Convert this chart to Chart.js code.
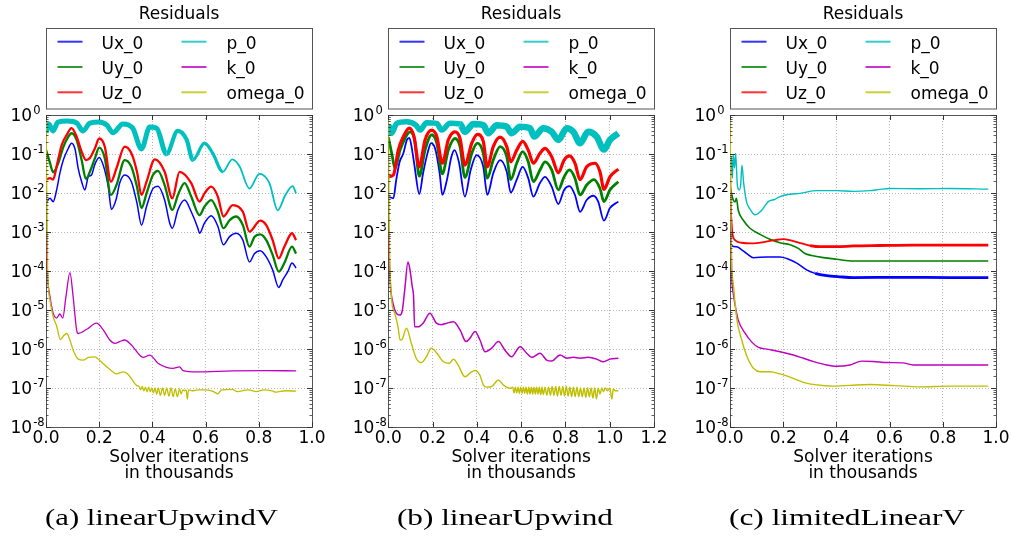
<!DOCTYPE html>
<html><head><meta charset="utf-8">
<script src="https://cdn.jsdelivr.net/npm/chart.js@4/dist/chart.umd.min.js"></script>
<style>
html,body{margin:0;padding:0;background:#fff;}
#wrap{position:relative;width:1011px;height:539px;overflow:hidden;}
canvas{position:absolute;top:0;}
</style></head><body>
<div id="wrap">
<canvas id="ca" width="337" height="539" style="left:0px"></canvas>
<canvas id="cb" width="337" height="539" style="left:337px"></canvas>
<canvas id="cc" width="337" height="539" style="left:674px"></canvas>
</div>
<script>
// ---------- tick labels / categories ----------
const seriesLabels = ['Ux_0','Uy_0','Uz_0','p_0','k_0','omega_0'];
const yTicks = [1,1e-1,1e-2,1e-3,1e-4,1e-5,1e-6,1e-7,1e-8];
const xTicksA = [0.0,0.2,0.4,0.6,0.8,1.0];
const xTicksB = [0.0,0.2,0.4,0.6,0.8,1.0,1.2];
const xTicksC = [0.0,0.2,0.4,0.6,0.8,1.0];

// ---------- panel (a) linearUpwindV ----------
const aUxX = [0.0,0.015,0.027,0.04,0.052,0.065,0.084,0.096,0.109,0.121,0.134,0.146,0.159,0.171,0.184,0.2,0.217,0.234,0.246,0.264,0.277,0.296,0.321,0.342,0.359,0.378,0.402,0.421,0.446,0.465,0.475,0.496,0.521,0.546,0.571,0.577,0.596,0.621,0.646,0.667,0.69,0.715,0.74,0.765,0.784,0.805,0.828,0.852,0.875,0.89,0.909,0.925,0.94];
const aUxY = [5.5e-3,7.3e-3,6.0e-3,1.2e-2,3.2e-2,7.0e-2,0.14,0.19,0.135,4.3e-2,1.95e-2,1.2e-2,2.6e-2,2.9e-2,5.5e-2,8.1e-2,4.7e-2,1.45e-2,3.8e-3,7.0e-3,1.8e-2,2.9e-2,1.95e-2,5.5e-3,1.5e-3,4.5e-3,1.3e-2,1.5e-2,6.6e-3,1.7e-3,1.25e-3,3.7e-3,6.6e-3,3.3e-3,1.25e-3,9.3e-4,1.7e-3,2.6e-3,1.4e-3,4.7e-4,7.6e-4,9.3e-4,6.2e-4,1.7e-4,2.8e-4,3.3e-4,2.3e-4,1.07e-4,3.8e-5,5.9e-5,9.6e-5,1.6e-4,1.2e-4];
const aUyX = [0.0,0.015,0.027,0.046,0.065,0.084,0.096,0.115,0.134,0.15,0.165,0.184,0.2,0.221,0.244,0.265,0.296,0.321,0.342,0.359,0.378,0.402,0.421,0.446,0.475,0.496,0.521,0.546,0.577,0.596,0.621,0.646,0.667,0.69,0.715,0.74,0.765,0.784,0.805,0.828,0.852,0.875,0.896,0.925,0.94];
const aUyY = [0.13,5.9e-2,3.4e-2,5.8e-2,0.15,0.28,0.34,0.23,7.0e-2,2.3e-2,3.5e-2,7.8e-2,0.145,7.8e-2,8.9e-3,1.6e-2,7.0e-2,4.7e-2,1.45e-2,4.1e-3,9.8e-3,2.9e-2,3.7e-2,1.6e-2,3.7e-3,8.9e-3,1.8e-2,8.1e-3,2.7e-3,4.5e-3,6.6e-3,3.3e-3,1.25e-3,2.0e-3,2.5e-3,1.5e-3,4.2e-4,7.6e-4,8.7e-4,6.2e-4,2.6e-4,9.6e-5,1.6e-4,4.2e-4,2.8e-4];
const aUzX = [0.0,0.015,0.027,0.041,0.059,0.078,0.096,0.114,0.134,0.15,0.165,0.184,0.2,0.221,0.244,0.265,0.296,0.321,0.342,0.359,0.378,0.409,0.446,0.475,0.502,0.546,0.577,0.596,0.621,0.646,0.667,0.702,0.74,0.765,0.805,0.828,0.852,0.875,0.896,0.925,0.94];
const aUzY = [2.2e-2,2.4e-2,2.2e-2,5.2e-2,0.17,0.31,0.46,0.29,0.115,7.0e-2,7.9e-2,0.14,0.25,0.155,1.95e-2,4.3e-2,0.155,0.104,3.5e-2,8.9e-3,1.95e-2,7.3e-2,3.5e-2,7.3e-3,3.5e-2,1.8e-2,6.0e-3,9.8e-3,1.45e-2,8.1e-3,2.5e-3,4.9e-3,3.3e-3,1.02e-3,1.95e-3,1.5e-3,6.2e-4,2.1e-4,4.2e-4,9.3e-4,6.2e-4];
const aPX = [0.0,0.011,0.026,0.045,0.079,0.116,0.139,0.165,0.2,0.229,0.252,0.289,0.326,0.359,0.39,0.416,0.453,0.495,0.529,0.552,0.596,0.626,0.665,0.7,0.727,0.765,0.802,0.84,0.871,0.9,0.927,0.94];
const aPY = [0.35,0.59,0.39,0.66,0.7,0.62,0.39,0.62,0.66,0.55,0.35,0.59,0.46,0.135,0.49,0.46,0.1,0.39,0.23,7.0e-2,0.19,0.107,3.5e-2,7.3e-2,4.9e-2,1.3e-2,3.1e-2,1.8e-2,3.6e-3,8.9e-3,1.5e-2,9.8e-3];
const aKX = [0.0,0.005,0.015,0.027,0.04,0.052,0.063,0.075,0.09,0.102,0.115,0.121,0.153,0.19,0.215,0.24,0.259,0.277,0.296,0.321,0.352,0.365,0.39,0.421,0.453,0.477,0.502,0.515,0.565,0.7,0.825,0.94];
const aKY = [1e-3,8.9e-5,2.2e-5,8.3e-6,6.2e-6,7.9e-6,6.2e-6,2.2e-5,9.1e-5,2.2e-5,3.1e-6,2.5e-6,3.2e-6,4.6e-6,3.1e-6,1.7e-6,1.4e-6,1.55e-6,1.7e-6,1.26e-6,7.0e-7,6.1e-7,7.0e-7,4.3e-7,3.4e-7,3.2e-7,3.5e-7,2.8e-7,2.6e-7,2.75e-7,2.8e-7,2.75e-7];
const aWX = [0.0,0.006,0.015,0.027,0.04,0.054,0.064,0.078,0.09,0.102,
  0.121,0.14,0.159,0.184,0.2,0.228,0.251,0.265,0.29,0.307,
  0.334,0.341,0.35,0.356,0.362,0.368,0.374,0.38,0.386,0.392,
  0.398,0.404,0.41,0.416,0.422,0.43,0.438,0.446,0.454,0.462,
  0.47,0.478,0.486,0.494,0.502,0.508,0.514,0.52,0.527,0.531,
  0.536,0.55,0.57,0.6,0.63,0.645,0.66,0.7,0.72,0.76,
  0.79,0.82,0.85,0.865,0.9,0.94];
const aWY = [1.0,1.3e-4,1.8e-5,6.7e-6,3.9e-6,1.75e-6,2.1e-6,2.5e-6,1.7e-6,9.4e-7,
  5.5e-7,5.2e-7,6.1e-7,6.3e-7,5.2e-7,3.5e-7,2.6e-7,2.3e-7,2.6e-7,2.3e-7,
  1.3e-7,1.15e-7,1.1e-7,9e-8,1.1e-7,8.5e-8,1.05e-7,8e-8,1.05e-7,8e-8,
  1e-7,7.5e-8,1e-7,7e-8,1e-7,6.5e-8,1e-7,6.5e-8,1e-7,6.2e-8,
  1e-7,6e-8,9.5e-8,6e-8,9.5e-8,7e-8,9e-8,8.5e-8,9e-8,5.2e-8,
  9e-8,8.5e-8,9e-8,8.9e-8,8.1e-8,7.1e-8,8.9e-8,9.2e-8,8.1e-8,9e-8,
  8.1e-8,9e-8,8.4e-8,7.8e-8,8.5e-8,8.3e-8];

// ---------- panel (b) linearUpwind ----------
const bUxX = [0.0,0.023,0.036,0.051,0.068,0.084,0.095,0.105,0.119,0.14,0.157,0.179,0.193,0.211,0.232,0.244,0.265,0.285,0.299,0.319,0.346,0.372,0.399,0.429,0.447,0.474,0.505,0.535,0.553,0.58,0.607,0.632,0.655,0.685,0.708,0.738,0.768,0.794,0.818,0.843,0.866,0.896,0.926,0.948,0.974,1.001,1.039];
const bUxY = [8.1e-3,7.3e-3,2.2e-2,6.2e-2,0.104,0.23,0.26,0.155,4.7e-2,9.4e-3,3.2e-2,0.115,0.19,0.14,3.2e-2,8.9e-3,2.2e-2,8.5e-2,0.126,6.2e-2,8.1e-3,3.9e-2,9.4e-2,4.7e-2,8.9e-3,3.2e-2,7.0e-2,3.5e-2,1.02e-2,2.2e-2,4.7e-2,2.4e-2,8.1e-3,1.8e-2,2.6e-2,1.45e-2,5.2e-3,1.2e-2,1.5e-2,8.9e-3,3.3e-3,6.6e-3,8.5e-3,6.0e-3,1.95e-3,4.1e-3,6.0e-3];
const bUyX = [0.0,0.017,0.03,0.053,0.075,0.098,0.119,0.14,0.166,0.196,0.219,0.244,0.271,0.301,0.324,0.346,0.377,0.402,0.429,0.447,0.474,0.505,0.535,0.553,0.58,0.607,0.632,0.655,0.685,0.708,0.738,0.768,0.794,0.818,0.843,0.866,0.896,0.929,0.956,0.974,1.001,1.039];
const bUyY = [0.27,9.4e-2,4.3e-2,0.126,0.25,0.37,0.23,2.7e-2,0.126,0.31,0.19,3.1e-2,0.126,0.25,0.155,2.5e-2,0.104,0.19,0.104,2.4e-2,7.0e-2,0.155,8.5e-2,2.2e-2,5.8e-2,0.115,6.3e-2,1.95e-2,3.9e-2,6.3e-2,3.9e-2,1.2e-2,2.6e-2,3.9e-2,2.4e-2,8.9e-3,1.6e-2,2.2e-2,1.3e-2,6.0e-3,1.2e-2,1.95e-2];
const bUzX = [0.0,0.023,0.045,0.068,0.095,0.116,0.14,0.166,0.196,0.219,0.244,0.271,0.301,0.324,0.346,0.377,0.402,0.429,0.447,0.474,0.505,0.535,0.553,0.58,0.607,0.632,0.655,0.685,0.708,0.738,0.768,0.794,0.818,0.843,0.866,0.896,0.934,0.956,0.974,1.001,1.039];
const bUzY = [2.6e-2,2.9e-2,0.126,0.28,0.46,0.28,4.7e-2,0.23,0.41,0.28,5.8e-2,0.23,0.37,0.25,5.2e-2,0.19,0.32,0.21,4.7e-2,0.155,0.27,0.155,6.3e-2,0.126,0.21,0.126,5.8e-2,0.104,0.14,8.5e-2,3.3e-2,7.0e-2,8.9e-2,5.8e-2,2.2e-2,4.7e-2,5.8e-2,3.5e-2,1.24e-2,2.6e-2,4.1e-2];
const bPX = [0.0,0.008,0.015,0.038,0.083,0.125,0.143,0.173,0.219,0.241,0.279,0.324,0.346,0.384,0.429,0.452,0.49,0.535,0.557,0.595,0.64,0.659,0.7,0.738,0.768,0.806,0.836,0.866,0.903,0.941,0.974,1.001,1.039];
const bPY = [0.31,0.5,0.34,0.61,0.67,0.55,0.41,0.63,0.61,0.41,0.61,0.59,0.37,0.59,0.55,0.34,0.55,0.5,0.34,0.5,0.46,0.28,0.46,0.37,0.23,0.46,0.37,0.19,0.37,0.28,0.13,0.23,0.34];
const bKX = [0.0,0.009,0.021,0.036,0.051,0.062,0.074,0.089,0.098,0.108,0.114,0.119,0.134,0.157,0.188,0.217,0.239,0.265,0.294,0.324,0.351,0.369,0.392,0.414,0.437,0.467,0.497,0.527,0.557,0.595,0.625,0.648,0.685,0.715,0.738,0.776,0.806,0.836,0.866,0.903,0.941,0.971,1.001,1.039];
const bKY = [1e-3,4.8e-5,1.5e-5,8.3e-6,7.4e-6,8.9e-6,3.2e-5,1.7e-4,1.07e-4,4.0e-5,2.3e-5,3.7e-6,3.7e-6,4.6e-6,8.3e-6,4.6e-6,4.2e-6,4.6e-6,5.0e-6,3.1e-6,1.55e-6,1.9e-6,2.8e-6,1.7e-6,8.5e-7,1.05e-6,1.55e-6,9.3e-7,6.3e-7,1.15e-6,7.8e-7,6.1e-7,7.8e-7,5.2e-7,4.9e-7,7.0e-7,5.8e-7,6.1e-7,5.8e-7,6.1e-7,5.5e-7,4.7e-7,5.5e-7,5.8e-7];
const bWX = [0.0,0.004,0.014,0.029,0.044,0.053,0.063,0.082,0.104,0.126,
  0.149,0.172,0.194,0.219,0.247,0.277,0.294,0.315,0.346,0.372,
  0.392,0.414,0.429,0.444,0.468,0.497,0.519,0.55,
  0.562,0.568,0.574,0.58,0.586,0.592,0.598,0.604,0.61,0.616,
  0.622,0.628,0.634,0.64,0.646,0.652,0.658,0.664,0.67,0.676,
  0.682,0.688,0.694,0.70,0.708,0.716,0.724,0.732,0.74,0.748,
  0.756,0.764,0.772,0.78,0.788,0.796,0.804,0.812,0.82,0.828,
  0.836,0.844,0.852,0.86,0.868,0.876,0.884,0.892,0.90,0.908,
  0.916,0.924,0.932,0.94,0.948,0.956,0.964,0.972,0.98,0.99,
  1.0,1.01,1.016,1.025,1.039];
const bWY = [1.0,1.5e-3,2.2e-5,8.3e-6,3.7e-6,1.7e-6,1.8e-6,3.4e-6,1.4e-6,5.8e-7,
  4.5e-7,6.3e-7,1.05e-6,7.9e-7,4.8e-7,4.3e-7,5.5e-7,3.9e-7,1.95e-7,2.5e-7,
  2.8e-7,2.1e-7,1.2e-7,1.05e-7,1.1e-7,1.6e-7,1.2e-7,9.8e-8,
  1.05e-7,7.5e-8,1.05e-7,7.5e-8,1.05e-7,7.3e-8,1.05e-7,7.3e-8,1.05e-7,7.3e-8,
  1.05e-7,7e-8,1.05e-7,7e-8,1.05e-7,7e-8,1.05e-7,7e-8,1.05e-7,7e-8,
  1.05e-7,6.8e-8,1.05e-7,6.8e-8,1.05e-7,6.5e-8,1.05e-7,6.5e-8,1.1e-7,6.5e-8,
  1.1e-7,6.2e-8,1.1e-7,6.5e-8,1.1e-7,6.2e-8,1.1e-7,6.2e-8,1.05e-7,6e-8,
  1.05e-7,6e-8,1.05e-7,6e-8,1e-7,6e-8,1e-7,5.8e-8,1e-7,6e-8,
  1e-7,5.5e-8,1e-7,5.2e-8,1e-7,7e-8,1e-7,8e-8,1e-7,8.5e-8,
  1e-7,5.2e-8,9.5e-8,8.5e-8,8.5e-8];

// ---------- panel (c) limitedLinearV ----------
const cUxX = [0.0,0.006,0.025,0.044,0.063,0.088,0.138,0.188,0.213,0.251,0.288,0.32,0.363,0.413,0.464,0.639,0.827,0.971];
const cUxY = [1.5e-3,4.5e-4,4.2e-4,3.5e-4,2.8e-4,2.2e-4,2.3e-4,2.3e-4,2.1e-4,1.6e-4,1.07e-4,8.7e-5,7.6e-5,7.1e-5,6.8e-5,6.9e-5,6.8e-5,6.8e-5];
const cUyX = [0.0,0.003,0.012,0.019,0.024,0.031,0.05,0.075,0.113,0.15,0.188,0.226,0.257,0.282,0.307,0.351,0.401,0.464,0.639,0.827,0.971];
const cUyY = [1.6e-2,1.2e-2,6.6e-3,5.9e-3,7.3e-3,3.6e-3,2.0e-3,1.25e-3,8.7e-4,6.5e-4,5.3e-4,4.7e-4,3.8e-4,2.8e-4,2.5e-4,2.2e-4,2.0e-4,1.8e-4,1.8e-4,1.8e-4,1.8e-4];
const cUzX = [0.0,0.004,0.009,0.019,0.044,0.082,0.132,0.169,0.2,0.232,0.27,0.301,0.338,0.401,0.464,0.564,0.689,0.827,0.971];
const cUzY = [5e-3,2.7e-3,9.3e-4,6.2e-4,5.3e-4,5.1e-4,5.6e-4,6.2e-4,6.6e-4,6.0e-4,5.1e-4,4.5e-4,4.2e-4,4.2e-4,4.4e-4,4.5e-4,4.6e-4,4.6e-4,4.6e-4];
const cPX = [0.0,0.004,0.009,0.012,0.017,0.021,0.028,0.035,0.04,0.045,0.051,0.062,0.075,0.094,0.119,0.144,0.169,0.188,0.226,0.263,0.326,0.401,0.464,0.526,0.564,0.602,0.714,0.827,0.971];
const cPY = [9e-2,8.5e-2,2.4e-2,9.4e-2,4.4e-2,0.104,1.5e-2,1.2e-2,1.6e-2,5.2e-2,1.9e-2,6.0e-3,3.9e-3,2.75e-3,3.6e-3,6.0e-3,6.9e-3,8.1e-3,9.3e-3,9.8e-3,1.15e-2,1.15e-2,1.1e-2,1.15e-2,1.24e-2,1.3e-2,1.29e-2,1.3e-2,1.26e-2];
const cKX = [0.0,0.006,0.012,0.019,0.031,0.056,0.082,0.107,0.144,0.188,0.238,0.276,0.313,0.363,0.401,0.451,0.495,0.539,0.589,0.65,0.689,0.827,0.971];
const cKY = [0.5,1e-4,2.7e-5,1.35e-5,5.5e-6,2.6e-6,1.5e-6,1.1e-6,9.8e-7,8.5e-7,7.0e-7,5.8e-7,4.8e-7,3.9e-7,3.6e-7,3.9e-7,4.9e-7,4.8e-7,4.5e-7,4.4e-7,3.9e-7,3.9e-7,3.9e-7];
const cWX = [0.0,0.005,0.012,0.025,0.044,0.063,0.075,0.088,0.113,0.15,0.188,0.226,0.276,0.326,0.388,0.451,0.526,0.62,0.714,0.827,0.971];
const cWY = [1.0,3e-4,5e-5,6.2e-6,1.7e-6,6.6e-7,4.4e-7,3.2e-7,2.6e-7,2.6e-7,2.3e-7,1.9e-7,1.4e-7,1.2e-7,1.12e-7,1.17e-7,1.23e-7,1.15e-7,1.07e-7,1.12e-7,1.12e-7];

// ---------- styles ----------
const COLORS = ['#0000ff','#008000','#ff0000','#00bfbf','#bf00bf','#bfbf00'];
// line widths: number, or list of [x upper limit, width]
const widthsA = [1.5, 2.3, 2.3, [[0.45,5],[0.55,4.2],[0.65,3.2],[9,1.8]], 1.3, 1.3];
const widthsB = [1.8, 2.8, 3.2, [[0.3,5.5],[9,6.5]], 1.5, 1.4];
const widthsC = [[[0.3,1.5],[9,2.8]], 1.6, [[0.3,1.8],[9,2.8]], 1.4, 1.4, 1.4];

const FONT = '"DejaVu Sans", sans-serif';

const panels = [
  { id:'ca', padL:46, padR:25, xMax:1.0, xTicks:xTicksA, widths:widthsA,
    caption:'(a) linearUpwindV', capX:161.5, capW:233,
    series:[[aUxX,aUxY],[aUyX,aUyY],[aUzX,aUzY],[aPX,aPY],[aKX,aKY],[aWX,aWY]] },
  { id:'cb', padL:51.3, padR:20, xMax:1.2, xTicks:xTicksB, widths:widthsB,
    caption:'(b) linearUpwind', capX:167.9, capW:216,
    series:[[bUxX,bUxY],[bUyX,bUyY],[bUzX,bUzY],[bPX,bPY],[bKX,bKY],[bWX,bWY]] },
  { id:'cc', padL:56, padR:15, xMax:1.0, xTicks:xTicksC, widths:widthsC,
    caption:'(c) limitedLinearV', capX:173, capW:236,
    series:[[cUxX,cUxY],[cUyX,cUyY],[cUzX,cUzY],[cPX,cPY],[cKX,cKY],[cWX,cWY]] }
];

function widthAt(spec, x) {
  for (const [lim, w] of spec) if (x < lim) return w;
  return spec[spec.length - 1][1];
}

function decor(p) {
  return {
    id: 'decor',
    beforeDatasetsDraw(chart) {
      const {ctx, chartArea: a} = chart;
      ctx.save();
      ctx.strokeStyle = '#555'; ctx.lineWidth = 1;
      const l = Math.round(a.left), t = Math.round(a.top), r = Math.round(a.right), b = Math.round(a.bottom);
      ctx.strokeRect(l + 0.5, t + 0.5, r - l, b - t);
      ctx.restore();
    },
    afterDraw(chart) {
      const {ctx, chartArea: a, scales: {x, y}} = chart;
      ctx.save();
      // tick marks (inward, all sides)
      ctx.strokeStyle = '#333'; ctx.lineWidth = 1;
      ctx.beginPath();
      p.xTicks.forEach(v => {
        const px = Math.round(x.getPixelForValue(v)) + 0.5;
        ctx.moveTo(px, a.bottom); ctx.lineTo(px, a.bottom - 5);
        ctx.moveTo(px, a.top); ctx.lineTo(px, a.top + 5);
      });
      yTicks.forEach(v => {
        const py = Math.round(y.getPixelForValue(v)) + 0.5;
        ctx.moveTo(a.left, py); ctx.lineTo(a.left + 5, py);
        ctx.moveTo(a.right, py); ctx.lineTo(a.right - 5, py);
      });
      ctx.stroke();
      ctx.beginPath(); ctx.lineWidth = 0.8;
      yTicks.slice(1).forEach(v => {
        for (let m = 2; m <= 9; m++) {
          const py = Math.round(y.getPixelForValue(v * m)) + 0.5;
          ctx.moveTo(a.left, py); ctx.lineTo(a.left + 2.5, py);
          ctx.moveTo(a.right, py); ctx.lineTo(a.right - 2.5, py);
        }
      });
      ctx.stroke();

      ctx.fillStyle = '#000';
      // x tick labels
      ctx.font = '17px ' + FONT; ctx.textAlign = 'center'; ctx.textBaseline = 'alphabetic';
      p.xTicks.forEach(v => ctx.fillText(v.toFixed(1), x.getPixelForValue(v), a.bottom + 15.6));
      // y tick labels 10^e
      yTicks.forEach(v => {
        const py = y.getPixelForValue(v);
        const e = Math.round(Math.log10(v));
        const bx = a.left - 35.5;
        ctx.textAlign = 'left';
        ctx.font = '17px ' + FONT;
        ctx.fillText('10', bx, py + 6.2);
        const w = ctx.measureText('10').width;
        ctx.font = '11.5px ' + FONT;
        ctx.fillText(String(e), bx + w + 1, py - 1.5);
      });
      // axis title
      const cx = (a.left + a.right) / 2;
      ctx.font = '17px ' + FONT; ctx.textAlign = 'center';
      ctx.fillText('Solver iterations', cx, 461.5);
      ctx.fillText('in thousands', cx, 478.3);
      // chart title
      ctx.fillText('Residuals', cx, 19.3);
      // legend box
      const L = Math.round(a.left) + 0.5, R = Math.round(a.right) + 0.5;
      ctx.strokeStyle = '#555'; ctx.lineWidth = 1;
      ctx.strokeRect(L, 28.5, R - L, 80.5);
      chart.data.datasets.forEach((ds, i) => {
        const col = i < 3 ? 0 : 1, row = i % 3;
        const ry = 41.7 + row * 25.3;
        ctx.save();
        ctx.globalAlpha = 0.8;
        ctx.strokeStyle = ds.borderColor; ctx.lineWidth = 2;
        ctx.beginPath();
        ctx.moveTo(L + 11 + col * 124, ry); ctx.lineTo(L + 36 + col * 124, ry);
        ctx.stroke();
        ctx.restore();
        ctx.textAlign = 'left'; ctx.font = '17px ' + FONT; ctx.fillStyle = '#000';
        ctx.fillText(ds.label, L + 55 + col * 125, ry + 7);
      });
      // caption
      ctx.font = '24px "Liberation Serif", serif';
      const cw = ctx.measureText(p.caption).width;
      ctx.translate(p.capX, 525);
      ctx.scale(p.capW / cw, 1);
      ctx.textAlign = 'center';
      ctx.fillText(p.caption, 0, 0);
      ctx.restore();
    }
  };
}

panels.forEach(p => {
  const datasets = p.series.map(([xs, ys], i) => {
    const wspec = p.widths[i];
    const ds = {
      label: seriesLabels[i],
      data: xs.map((xv, j) => ({x: xv, y: ys[j]})),
      borderColor: COLORS[i],
      backgroundColor: COLORS[i],
      borderWidth: Array.isArray(wspec) ? wspec[0][1] : wspec,
      pointRadius: 0,
      fill: false,
      cubicInterpolationMode: 'monotone',
      borderJoinStyle: 'round',
      borderCapStyle: 'butt',
      order: 6 - i
    };
    if (Array.isArray(wspec)) {
      ds.segment = { borderWidth: c => widthAt(wspec, c.p0.parsed.x) };
    }
    return ds;
  });
  new Chart(document.getElementById(p.id), {
    type: 'line',
    data: { datasets },
    options: {
      responsive: false,
      animation: false,
      devicePixelRatio: 1,
      events: [],
      layout: { autoPadding: false, padding: { left: p.padL, right: p.padR, top: 115, bottom: 112 } },
      plugins: { legend: { display: false }, tooltip: { enabled: false }, title: { display: false } },
      scales: {
        x: {
          type: 'linear', min: 0, max: p.xMax,
          ticks: { display: false },
          grid: { color: '#b8b8b8', lineWidth: 1, drawTicks: false },
          border: { display: false, dash: [1, 2] },
          afterBuildTicks: s => { s.ticks = p.xTicks.map(v => ({ value: v })); },
          afterFit: s => { s.height = 0; }
        },
        y: {
          type: 'logarithmic', min: 1e-8, max: 1,
          ticks: { display: false },
          grid: { color: '#b8b8b8', lineWidth: 1, drawTicks: false },
          border: { display: false, dash: [1, 2] },
          afterBuildTicks: s => { s.ticks = yTicks.map(v => ({ value: v })); },
          afterFit: s => { s.width = 0; }
        }
      }
    },
    plugins: [decor(p)]
  });
});
</script>
</body></html>
